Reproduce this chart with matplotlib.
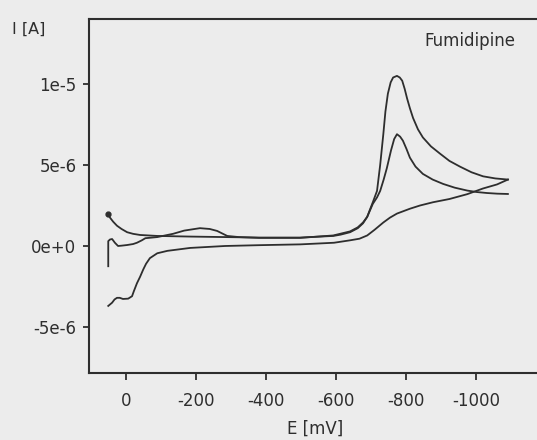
import matplotlib
matplotlib.use("Agg")
from matplotlib import pyplot as plt

# potentials in mV, currents in microampere
e_fwd1 = [51, 46, 37, 26, 13, -3, -20, -40, -89, -186, -283, -380, -497, -592, -613, -640,
          -662, -677, -689, -696, -705, -717, -726, -735, -741, -748, -756, -763, -774, -782,
          -789, -796, -803, -811, -820, -834, -848, -871, -897, -924, -954, -987, -1020,
          -1055, -1091]
i_fwd1 = [1.95, 1.75, 1.5, 1.25, 1.05, 0.85, 0.75, 0.68, 0.62, 0.58, 0.55, 0.52, 0.52, 0.62, 0.7,
          0.85, 1.1, 1.4, 1.8, 2.2, 2.7, 3.4, 5.0, 6.9, 8.3, 9.4, 10.1, 10.4, 10.5, 10.4, 10.2,
          9.7, 9.1, 8.5, 7.9, 7.2, 6.7, 6.15, 5.7, 5.25, 4.9, 4.55, 4.3, 4.17, 4.1]

e_rev = [-1091, -1060, -1020, -975, -924, -877, -840, -811, -774, -754, -735, -710, -689, -667,
         -640, -594, -498, -380, -283, -183, -118, -89, -68, -57, -49, -40, -31, -22, -17, -6,
         9, 18, 26, 33, 40, 51]
i_rev = [4.1, 3.8, 3.55, 3.2, 2.9, 2.7, 2.5, 2.3, 2.0, 1.75, 1.45, 1.0, 0.65, 0.45, 0.35, 0.2,
         0.1, 0.05, 0.0, -0.12, -0.3, -0.45, -0.75, -1.1, -1.45, -1.9, -2.3, -2.8, -3.1, -3.25,
         -3.27, -3.2, -3.2, -3.3, -3.5, -3.7]

e_fwd2 = [51, 51, 46, 40, 32, 23, 13, -3, -20, -31, -45, -55, -89, -134, -166, -211, -239, -260,
          -289, -322, -380, -497, -592, -640, -662, -677, -689, -705, -717, -726, -736, -745,
          -757, -766, -774, -783, -791, -801, -811, -827, -848, -876, -906, -939, -975, -1002,
          -1031, -1060, -1091]
i_fwd2 = [-1.25, 0.3, 0.4, 0.43, 0.2, 0.0, 0.02, 0.06, 0.12, 0.2, 0.35, 0.48, 0.55, 0.75, 0.95,
          1.1, 1.05, 0.93, 0.62, 0.55, 0.5, 0.5, 0.65, 0.9, 1.15, 1.45, 1.8, 2.6, 3.0, 3.4, 4.1,
          4.8, 5.9, 6.6, 6.9, 6.75, 6.5, 6.0, 5.45, 4.9, 4.45, 4.1, 3.83, 3.6, 3.42, 3.33, 3.27,
          3.23, 3.21]

x_ticks = [0, -200, -400, -600, -800, -1000]
x_labels = ["0", "-200", "-400", "-600", "-800", "-1000"]
y_ticks = [10, 5, 0, -5]
y_labels = ["1e-5", "5e-6", "0e+0", "-5e-6"]

plt.rcParams["font.family"] = ["DejaVu Sans"]
ink = "#2e2e2e"
paper = "#ececec"

fig = plt.figure(figsize=(5.37, 4.40), dpi=100)
fig.patch.set_facecolor(paper)
ax = fig.add_axes([89 / 537, 1 - 373 / 440, 456 / 537, 353.5 / 440])
ax.set_facecolor(paper)

for e, i in [(e_fwd1, i_fwd1), (e_rev, i_rev), (e_fwd2, i_fwd2)]:
    ax.plot(e, i, color=ink, lw=1.3, solid_joinstyle="round")
ax.plot(e_fwd1[0], i_fwd1[0], "o", color=ink, ms=3.5)

ax.set_xlim(106, -1197)
ax.set_ylim(-7.84, 13.98)
ax.set_xticks(x_ticks)
ax.set_xticklabels(x_labels)
ax.set_yticks(y_ticks)
ax.set_yticklabels(y_labels)
ax.tick_params(axis="x", direction="out", length=5, width=1.3, pad=9, labelsize=12, colors=ink)
ax.tick_params(axis="y", direction="out", length=4, width=1.3, pad=5, labelsize=12, colors=ink)
for s in ["left", "bottom", "top"]:
    ax.spines[s].set_color(ink)
    ax.spines[s].set_linewidth(1.5)
ax.spines["right"].set_visible(False)

fig.text(315 / 537, 1 - 429 / 440, "E [mV]", fontsize=12, color=ink, ha="center", va="center")
fig.text(12 / 537, 1 - 29 / 440, "I [A]", fontsize=11.5, color=ink, va="center", ha="left")
fig.text(515 / 537, 1 - 40.5 / 440, "Fumidipine", fontsize=12, color=ink,
         ha="right", va="center")

fig.savefig("out.png", dpi=100, facecolor=paper)
